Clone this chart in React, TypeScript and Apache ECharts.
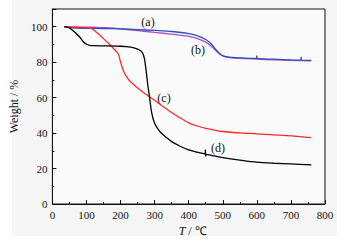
import React, { useEffect, useRef } from "react";
import * as echarts from "echarts";

const xTicks = [0, 100, 200, 300, 400, 500, 600, 700, 800];
const yTicks = [0, 20, 40, 60, 80, 100];

const seriesA: [number, number][] = [
  [35, 100], [60, 99.4], [100, 99.1], [150, 99], [200, 98.8], [250, 98.4], [300, 97.9], [350, 97.3],
  [400, 96.1], [430, 94.6], [450, 92.8], [465, 90.5], [480, 87], [490, 85], [500, 83.6], [520, 82.8],
  [550, 82.4], [599, 82.1], [600, 83.6], [601, 82.1], [650, 81.7], [700, 81.3], [729, 81.2], [730, 82.8],
  [731, 81.2], [760, 81]
];
const seriesB: [number, number][] = [
  [35, 99.8], [80, 99.8], [120, 99.7], [160, 99.5], [200, 98.8], [250, 97.8], [300, 96.8], [350, 95.8],
  [400, 94.6], [430, 93], [450, 91.3], [465, 89.2], [480, 86.5], [490, 84.8], [500, 83.5], [520, 82.6],
  [550, 82.1], [600, 81.7], [650, 81.3], [700, 81], [760, 80.7]
];
const seriesC: [number, number][] = [
  [35, 100], [80, 99.7], [110, 99.3], [120, 98.3], [135, 96], [150, 93.3], [165, 90.5], [180, 87.6],
  [190, 85.5], [195, 83.9], [200, 80], [205, 77], [210, 74.5], [218, 71.8], [225, 69.8], [250, 65.5],
  [275, 61.8], [300, 58.5], [325, 55], [350, 51.6], [375, 48.5], [400, 45.8], [425, 44], [450, 42.7],
  [500, 40.9], [550, 40.1], [600, 39.6], [650, 39], [700, 38.4], [760, 37.4]
];
const seriesD: [number, number][] = [
  [35, 100], [50, 99.3], [60, 97.9], [70, 96.2], [80, 94.2], [90, 91.7], [100, 90.1], [110, 89.5],
  [120, 89.3], [150, 89.2], [200, 89], [230, 88.5], [250, 87.4], [260, 86.3], [265, 85], [270, 82],
  [275, 75.4], [280, 67], [285, 60.4], [290, 53], [295, 48.5], [300, 45.5], [310, 42.2], [320, 39.9],
  [335, 37.4], [350, 35.2], [375, 32.6], [400, 30.5], [425, 29.2], [448, 28.2], [449, 30.5], [450, 27], [451, 28],
  [475, 27.1], [500, 26.2], [550, 24.8], [600, 23.6], [650, 23], [700, 22.6], [760, 22.1]
];

const labels = [
  { text: "(a)", x: 148, y: 22 },
  { text: "(b)", x: 198, y: 50 },
  { text: "(c)", x: 164, y: 98 },
  { text: "(d)", x: 218, y: 148 },
];

const FONT = "Liberation Serif";

export default function App() {
  const ref = useRef<HTMLDivElement>(null);
  useEffect(() => {
    if (!ref.current) return;
    const chart = echarts.init(ref.current, undefined, { renderer: "svg" });
    const lineSeries = (data: [number, number][], color: string, z: number) => ({
      type: "line",
      data,
      showSymbol: false,
      smooth: 0.3,
      z,
      lineStyle: { color, width: 1.3 },
      itemStyle: { color },
    });
    chart.setOption({
      animation: false,
      backgroundColor: "#ffffff",
      textStyle: { fontFamily: FONT },
      graphic: [
        {
          type: "rect",
          z: -10,
          silent: true,
          shape: { x: 12, y: 0, width: 325, height: 236 },
          style: { fill: "#f6f6f6" },
        },
        ...labels.map((l) => ({
          type: "text",
          x: l.x,
          y: l.y,
          z: 100,
          style: {
            text: l.text,
            fill: "#111",
            fontFamily: FONT,
            fontSize: 12,
            align: "center",
            verticalAlign: "middle",
          },
        })),
      ],
      grid: {
        left: 50,
        right: 36,
        top: 9,
        bottom: 39,
        show: true,
        borderColor: "#111",
        borderWidth: 1,
        backgroundColor: "#fbfbfb",
      },
      xAxis: {
        type: "value",
        min: 0,
        max: 800,
        interval: 100,
        name: "{i|T} / ℃",
        nameLocation: "middle",
        nameGap: 18,
        nameTextStyle: {
          color: "#111",
          fontFamily: FONT,
          fontSize: 12,
          padding: [0, 0, 0, 8],
          rich: {
            i: { fontStyle: "italic", fontFamily: FONT, fontSize: 12, color: "#111" },
          },
        },
        axisLine: { show: true, lineStyle: { color: "#111", width: 1 } },
        axisTick: { show: true, inside: true, length: 4, lineStyle: { color: "#111" } },
        minorTick: { show: true, splitNumber: 2, length: 2, lineStyle: { color: "#111" } },
        axisLabel: { color: "#111", fontFamily: FONT, fontSize: 11, margin: 5 },
        splitLine: { show: false },
      },
      yAxis: {
        type: "value",
        min: 0,
        max: 110,
        interval: 20,
        name: "Weight / %",
        nameLocation: "middle",
        nameGap: 23,
        nameTextStyle: { color: "#111", fontFamily: FONT, fontSize: 12 },
        axisLine: { show: true, lineStyle: { color: "#111", width: 1 } },
        axisTick: { show: true, inside: true, length: 4, lineStyle: { color: "#111" } },
        minorTick: { show: true, splitNumber: 2, length: 2, lineStyle: { color: "#111" } },
        axisLabel: {
          color: "#111",
          fontFamily: FONT,
          fontSize: 11,
          margin: 5,
          formatter: (v: number) => (yTicks.includes(v) ? String(v) : ""),
        },
        splitLine: { show: false },
      },
      series: [
        lineSeries(seriesB, "#b050c0", 2),
        lineSeries(seriesA, "#2a4fc0", 3),
        lineSeries(seriesC, "#ff2a2a", 4),
        lineSeries(seriesD, "#000000", 5),
      ],
    });
    return () => chart.dispose();
  }, []);
  return (
    <div
      ref={ref}
      style={{ position: "fixed", left: 0, top: 0, width: 361, height: 243 }}
      data-ticks={xTicks.join(",")}
    />
  );
}
